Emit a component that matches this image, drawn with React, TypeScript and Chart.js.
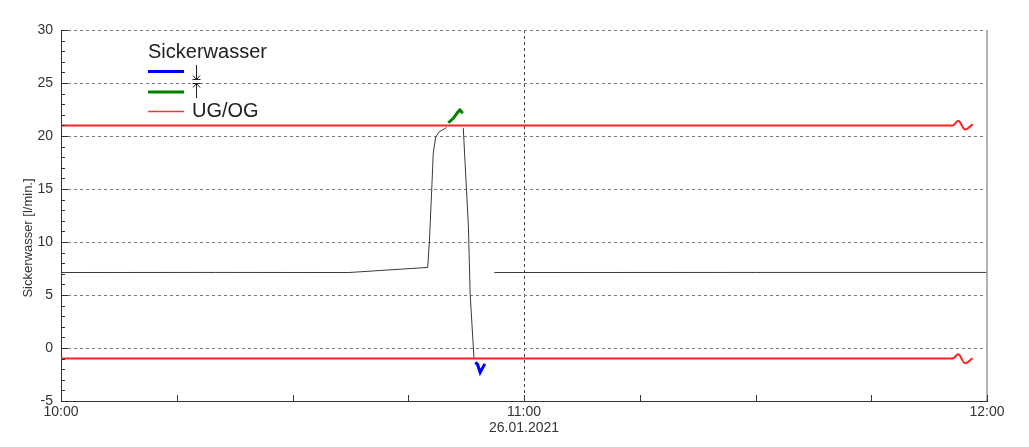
import React, { useEffect, useRef } from 'react';
import { Chart, registerables } from 'chart.js';

Chart.register(...registerables);

// Time in minutes after 10:00 on 26.01.2021
const sickerTime = [0, 20, 37.3, 47.52, 47.73, 48.04, 48.24, 48.55, 48.89, 49.02, 49.98, 51, 52.13, 52.8, 53.02, 53.52, 55, 56.15, 90, 120];
const sickerValue: (number | null)[] = [7.12, 7.13, 7.12, 7.6, 9.9, 14.9, 18.4, 19.9, 20.25, 20.4, 20.8, null, 20.75, 11.4, 5.1, -0.95, null, 7.12, 7.13, 7.13];
const aboveTime = [50.19, 50.84, 51.48, 51.7, 52.05];
const aboveValue = [21.25, 21.67, 22.3, 22.45, 22.14];
const belowTime = [53.7, 53.98, 54.32, 54.92];
const belowValue = [-1.35, -1.55, -2.3, -1.5];
const limitTime = [0, 115.55, 116.28, 117.15, 118.14];
const ogValue = [21, 21, 21.45, 20.62, 21.1];
const ugValue = [-1, -1, -0.6, -1.45, -0.97];

const xMin = 0;
const xMax = 120;
const xStep = 15;
const xLabels: Record<number, string | string[]> = { 0: '10:00', 60: ['11:00', '26.01.2021'], 120: '12:00' };
const yMin = -5;
const yMax = 30;
const yStep = 5;
const yTitle = 'Sickerwasser [l/min.]';
const legendTitle = 'Sickerwasser';
const legendLimit = 'UG/OG';

const FONT = '"Liberation Sans", Arial, sans-serif';

const zip = (xs: number[], ys: (number | null)[]) => xs.map((x, i) => ({ x, y: ys[i] }));

const decorPlugin = {
  id: 'decor',
  afterDraw(chart: any) {
    const { ctx, chartArea, scales } = chart;
    const xs = scales.x;
    const ys = scales.y;
    ctx.save();
    // right border
    ctx.strokeStyle = '#9a9a9a';
    ctx.lineWidth = 1.5;
    ctx.beginPath();
    ctx.moveTo(chartArea.right, chartArea.top);
    ctx.lineTo(chartArea.right, chartArea.bottom);
    ctx.stroke();
    // inward ticks
    ctx.strokeStyle = '#333';
    ctx.lineWidth = 1;
    for (let v = yMin; v <= yMax; v += 1) {
      const p = Math.round(ys.getPixelForValue(v)) + 0.5;
      const len = v % yStep === 0 ? 7 : 4;
      ctx.beginPath();
      ctx.moveTo(chartArea.left, p);
      ctx.lineTo(chartArea.left + len, p);
      ctx.stroke();
    }
    for (let v = xMin; v <= xMax; v += xStep) {
      const p = Math.round(xs.getPixelForValue(v)) + 0.5;
      ctx.beginPath();
      ctx.moveTo(p, chartArea.bottom);
      ctx.lineTo(p, chartArea.bottom - 6);
      ctx.stroke();
    }
    // y title
    ctx.fillStyle = '#333';
    ctx.font = `13px ${FONT}`;
    ctx.textAlign = 'center';
    ctx.textBaseline = 'middle';
    ctx.save();
    ctx.translate(28, 238);
    ctx.rotate(-Math.PI / 2);
    ctx.fillText(yTitle, 0, 0);
    ctx.restore();
    // legend
    ctx.fillStyle = '#222';
    ctx.font = `20px ${FONT}`;
    ctx.textAlign = 'left';
    ctx.fillText(legendTitle, 148, 52);
    ctx.fillText(legendLimit, 192, 111);
    ctx.lineWidth = 3;
    ctx.strokeStyle = '#0000ff';
    ctx.beginPath(); ctx.moveTo(148, 71.5); ctx.lineTo(184, 71.5); ctx.stroke();
    ctx.strokeStyle = '#008000';
    ctx.beginPath(); ctx.moveTo(148, 92); ctx.lineTo(184, 92); ctx.stroke();
    ctx.lineWidth = 1.5;
    ctx.strokeStyle = '#ff3030';
    ctx.beginPath(); ctx.moveTo(148, 111.5); ctx.lineTo(184, 111.5); ctx.stroke();
    // arrows
    ctx.strokeStyle = '#222';
    ctx.lineWidth = 1;
    ctx.beginPath();
    ctx.moveTo(196.5, 65); ctx.lineTo(196.5, 79.5);
    ctx.moveTo(193, 75.5); ctx.lineTo(196.5, 79.5); ctx.lineTo(200, 75.5);
    ctx.moveTo(192.5, 79.5); ctx.lineTo(200.5, 79.5);
    ctx.moveTo(192.5, 83.5); ctx.lineTo(200.5, 83.5);
    ctx.moveTo(193, 87.5); ctx.lineTo(196.5, 83.5); ctx.lineTo(200, 87.5);
    ctx.moveTo(196.5, 83.5); ctx.lineTo(196.5, 98);
    ctx.stroke();
    ctx.restore();
  },
};

export default function App() {
  const ref = useRef<HTMLCanvasElement | null>(null);
  useEffect(() => {
    if (!ref.current) return;
    const chart = new Chart(ref.current, {
      type: 'line',
      data: {
        datasets: [
          {
            label: 'UG',
            data: zip(limitTime, ugValue),
            borderColor: '#ff2020',
            borderWidth: 2,
            pointRadius: 0,
            cubicInterpolationMode: 'monotone',
          },
          {
            label: 'OG',
            data: zip(limitTime, ogValue),
            borderColor: '#ff2020',
            borderWidth: 2,
            pointRadius: 0,
            cubicInterpolationMode: 'monotone',
          },
          {
            label: 'Sickerwasser',
            data: zip(sickerTime, sickerValue),
            borderColor: '#3a3a3a',
            borderWidth: 1,
            pointRadius: 0,
            spanGaps: false,
            tension: 0,
          },
          {
            label: 'above',
            data: zip(aboveTime, aboveValue),
            borderColor: '#008000',
            borderWidth: 3,
            pointRadius: 0,
            tension: 0,
          },
          {
            label: 'below',
            data: zip(belowTime, belowValue),
            borderColor: '#0000ff',
            borderWidth: 3,
            pointRadius: 0,
            tension: 0,
          },
        ],
      } as any,
      options: {
        responsive: false,
        animation: false,
        layout: { padding: { top: 30, right: 42, left: 0, bottom: 0 } },
        plugins: { legend: { display: false }, tooltip: { enabled: false } },
        scales: {
          x: {
            type: 'linear',
            min: xMin,
            max: xMax,
            afterFit: (s: any) => { s.height = 46; },
            ticks: {
              stepSize: xStep,
              autoSkip: false,
              maxRotation: 0,
              padding: 3,
              color: '#333',
              font: { family: FONT, size: 14, lineHeight: 1.15 },
              callback: (v: any) => xLabels[v as number] ?? '',
            },
            grid: {
              drawTicks: false,
              color: (c: any) => (c.tick && c.tick.value === 60 ? '#444' : 'transparent'),
              lineWidth: 1,
            },
            border: { display: true, color: '#333', width: 1, dash: [3, 3] },
          },
          y: {
            type: 'linear',
            min: yMin,
            max: yMax,
            afterFit: (s: any) => { s.width = 61; },
            ticks: {
              stepSize: yStep,
              padding: 8,
              color: '#333',
              font: { family: FONT, size: 14 },
            },
            grid: {
              drawTicks: false,
              color: (c: any) => (c.tick && c.tick.value === yMin ? 'transparent' : '#7a7a7a'),
              lineWidth: 1,
            },
            border: { display: true, color: '#333', width: 1, dash: [3, 3] },
          },
        },
      } as any,
      plugins: [decorPlugin],
    });
    return () => chart.destroy();
  }, []);
  return (
    <div style={{ position: 'absolute', left: 0, top: 0, width: 1029, height: 447, background: '#fff' }}>
      <canvas ref={ref} width={1029} height={447} />
    </div>
  );
}
